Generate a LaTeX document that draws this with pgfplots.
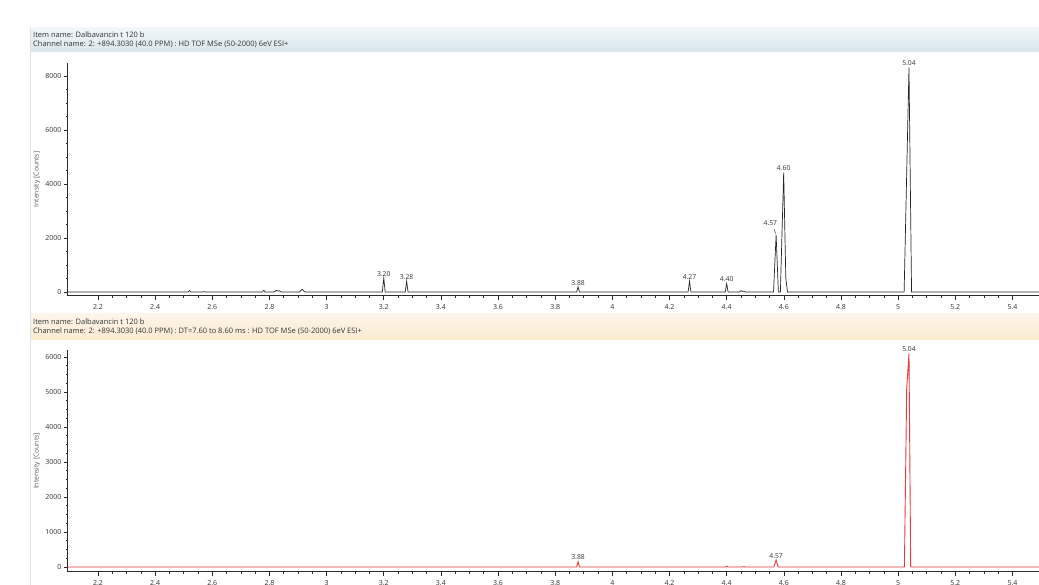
\documentclass[border=0pt]{standalone}
\usepackage{pgfplots}
\pgfplotsset{compat=1.18}
\usepackage{fontspec}
\setmainfont{Open Sans}
\definecolor{axc}{HTML}{2B2B2B}
\definecolor{txt}{HTML}{333333}
\definecolor{redl}{HTML}{E83A3A}
\definecolor{hbTop}{HTML}{F2F7F9}
\definecolor{hbBot}{HTML}{D7E6EC}
\definecolor{hoTop}{HTML}{FDF6EA}
\definecolor{hoBot}{HTML}{FBEAD0}
\tikzset{pk/.style={font=\fontsize{6.8}{8}\selectfont, text=txt, anchor=south, inner sep=1.5pt}}
\begin{document}
\begin{tikzpicture}
\path[use as bounding box, fill=white] (0pt,0pt) rectangle (1039pt,585pt);
% header bands
\shade[top color=hbTop, bottom color=hbBot] (30pt,533pt) rectangle (1039pt,557pt);
\shade[top color=hoTop, bottom color=hoBot] (30pt,245pt) rectangle (1039pt,271pt);
\draw[color=black!12, line width=0.6pt] (30.5pt,557pt) -- (30.5pt,0pt);
\node[anchor=west, font=\fontsize{7.5}{8}\selectfont, text=txt, inner sep=0pt] at (33pt,550pt) {Item name: Dalbavancin t 120 b};
\node[anchor=west, font=\fontsize{7.5}{8}\selectfont, text=txt, inner sep=0pt] at (33pt,540.5pt) {Channel name: 2: +894.3030 (40.0 PPM) : HD TOF MSe (50-2000) 6eV ESI+};
\node[anchor=west, font=\fontsize{7.5}{8}\selectfont, text=txt, inner sep=0pt] at (33pt,263.5pt) {Item name: Dalbavancin t 120 b};
\node[anchor=west, font=\fontsize{7.5}{8}\selectfont, text=txt, inner sep=0pt] at (33pt,254pt) {Channel name: 2: +894.3030 (40.0 PPM) : DT=7.60 to 8.60 ms : HD TOF MSe (50-2000) 6eV ESI+};
\pgfplotsset{
  chrom/.style={
    scale only axis,
    width=973pt,
    xmin=2.095, xmax=5.5,
    axis x line*=bottom, axis y line*=left,
    axis line style={color=axc, line width=1pt},
    tick align=outside,
    major tick length=4pt, minor tick length=2pt,
    tick style={color=axc, line width=0.6pt},
    xtick={2.2,2.4,2.6,2.8,3,3.2,3.4,3.6,3.8,4,4.2,4.4,4.6,4.8,5,5.2,5.4},
    xticklabels={2.2,2.4,2.6,2.8,3,3.2,3.4,3.6,3.8,4,4.2,4.4,4.6,4.8,5,5.2,5.4},
    minor x tick num=3,
    ticklabel style={font=\fontsize{7}{8}\selectfont, text=txt},
    /pgf/number format/assume math mode=true,
    /pgf/number format/1000 sep={},
    xticklabel style={yshift=-1pt},
    yticklabel style={xshift=1pt},
    ylabel={Intensity [Counts]},
    every axis y label/.style={at={(rel axis cs:0,0.5)}, xshift=-31pt, rotate=90, anchor=center, font=\fontsize{6.8}{8}\selectfont, text=txt!80},
    clip=false,
  },
}
\begin{axis}[chrom, at={(68pt,289pt)}, anchor=south west, height=233pt,
  ymin=-148, ymax=8480, ytick={0,2000,4000,6000,8000}, minor y tick num=3]
\addplot[color=black!85, line width=0.7pt] coordinates {
(2.095,0) (2.515,0) (2.52,50) (2.525,0) (2.565,0) (2.57,15) (2.575,0)
(2.775,0) (2.78,60) (2.785,0) (2.815,0) (2.82,30) (2.825,60) (2.83,30) (2.835,45) (2.84,0)
(2.905,0) (2.91,60) (2.915,100) (2.92,30) (2.925,0)
(3.195,0) (3.20,510) (3.205,0) (3.275,0) (3.28,400) (3.285,0)
(3.875,0) (3.88,190) (3.885,0) (4.265,0) (4.27,400) (4.275,0)
(4.395,0) (4.40,310) (4.405,0) (4.445,0) (4.45,50) (4.455,20) (4.46,30) (4.465,0)
(4.564,0) (4.573,2110) (4.581,0) (4.588,0) (4.5995,4420) (4.607,500) (4.613,0)
(5.021,0) (5.038,8310) (5.047,0) (5.5,0)
};
\node[pk] at (axis cs:5.038,8310) {5.04};
\node[pk] at (axis cs:4.5995,4420) {4.60};
\node[pk] at (axis cs:4.553,2380) {4.57};
\draw[color=black!80, line width=0.5pt] (axis cs:4.566,2330) -- (axis cs:4.571,2160);
\node[pk] at (axis cs:4.40,310) {4.40};
\node[pk] at (axis cs:4.27,400) {4.27};
\node[pk] at (axis cs:3.88,190) {3.88};
\node[pk] at (axis cs:3.28,400) {3.28};
\node[pk] at (axis cs:3.20,510) {3.20};
\end{axis}
\begin{axis}[chrom, at={(68pt,13pt)}, anchor=south west, height=222pt,
  ymin=-143, ymax=6200, ytick={0,1000,2000,3000,4000,5000,6000}, minor y tick num=3]
\addplot[color=redl, line width=0.9pt] coordinates {
(2.095,0) (3.875,0) (3.88,150) (3.885,0)
(4.395,0) (4.40,20) (4.405,0) (4.455,0) (4.46,10) (4.465,0)
(4.565,0) (4.573,200) (4.58,0)
(5.022,0) (5.03,5100) (5.038,6100) (5.044,0) (5.5,0)
};
\node[pk] at (axis cs:5.038,6100) {5.04};
\node[pk] at (axis cs:4.573,200) {4.57};
\node[pk] at (axis cs:3.88,150) {3.88};
\end{axis}
\end{tikzpicture}
\end{document}
